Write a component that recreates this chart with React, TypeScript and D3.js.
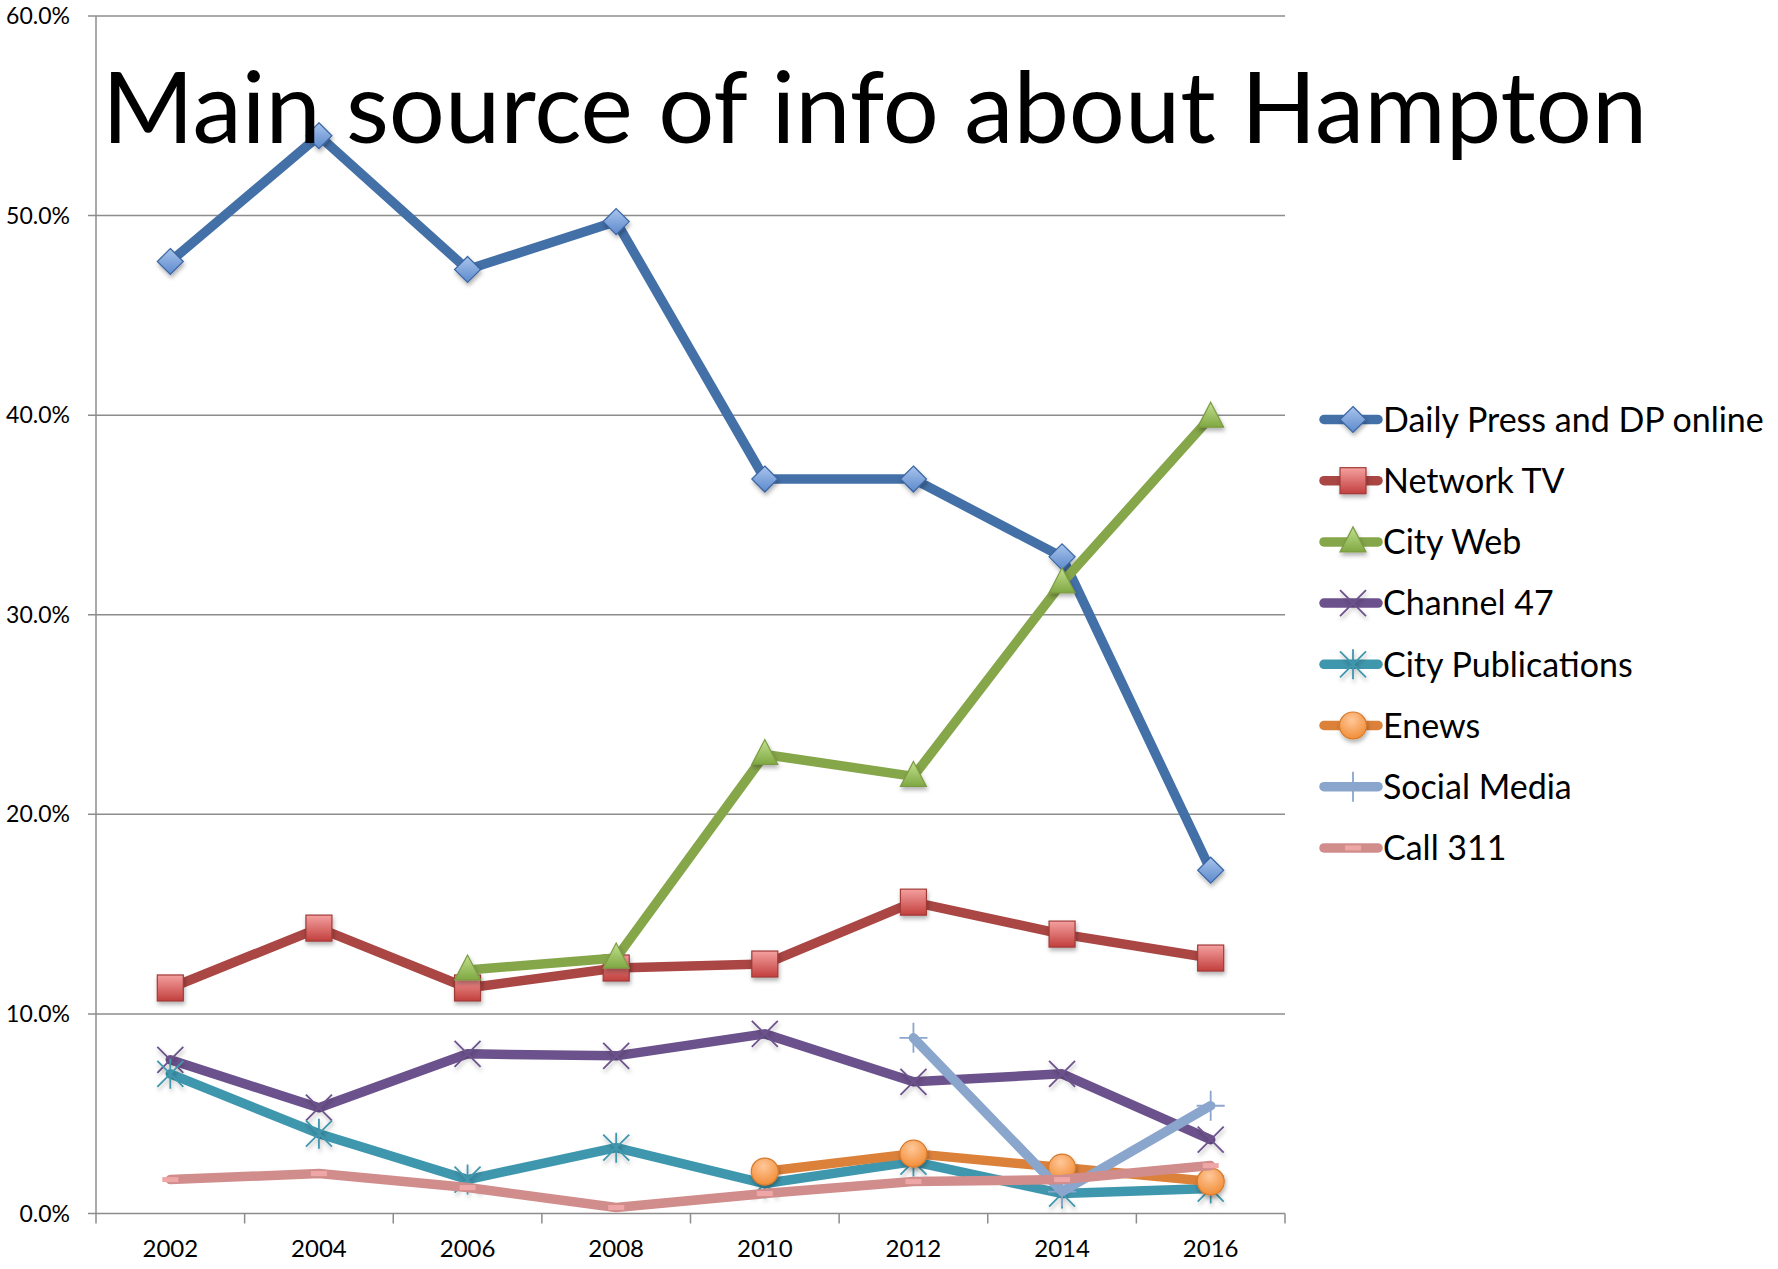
import React from "react";
import * as d3 from "d3";

const years = ["2002", "2004", "2006", "2008", "2010", "2012", "2014", "2016"];
const yTicks = [0, 10, 20, 30, 40, 50, 60];

const dailyPress = [47.7, 54.0, 47.3, 49.7, 36.8, 36.8, 32.9, 17.2];
const networkTV = [11.3, 14.3, 11.3, 12.3, 12.5, 15.6, 14.0, 12.8];
const cityWeb = [null, null, 12.2, 12.8, 23.0, 21.9, 31.6, 39.9];
const channel47 = [7.7, 5.3, 8.0, 7.9, 9.0, 6.6, 7.0, 3.7];
const cityPubs = [7.0, 4.0, 1.7, 3.3, 1.5, 2.6, 1.0, 1.25];
const enews = [null, null, null, null, 2.1, 3.0, 2.3, 1.6];
const socialMedia = [null, null, null, null, null, 8.8, 1.1, 5.4];
const call311 = [1.7, 2.0, 1.3, 0.3, 1.0, 1.6, 1.7, 2.4];

const seriesNames = [
  "Daily Press and DP online",
  "Network TV",
  "City Web",
  "Channel 47",
  "City Publications",
  "Enews",
  "Social Media",
  "Call 311",
];
const seriesValues = [dailyPress, networkTV, cityWeb, channel47, cityPubs, enews, socialMedia, call311];
const seriesColors = ["#4470A8", "#AA4643", "#86A64A", "#6C528C", "#3F97AE", "#DC813A", "#8BA6CC", "#D18D8C"];
const markerKinds = ["diamond", "square", "triangle", "x", "star", "circle", "plus", "dash"];

const W = 1778;
const H = 1269;
const left = 96;
const right = 1285;
const top = 16;
const bottom = 1213.5;
const FONT = "Lato, 'Open Sans', sans-serif";

function Marker({ kind, x, y }: { kind: string; x: number; y: number }) {
  switch (kind) {
    case "diamond":
      return (
        <path
          d={`M${x},${y - 13}L${x + 13},${y}L${x},${y + 13}L${x - 13},${y}Z`}
          fill="url(#gDiamond)"
          stroke="#3A66A3"
          strokeWidth={1.2}
          filter="url(#shadow)"
        />
      );
    case "square":
      return (
        <rect x={x - 13} y={y - 13} width={26} height={26} fill="url(#gSquare)" stroke="#A13A38" strokeWidth={1.2} filter="url(#shadow)" />
      );
    case "triangle":
      return (
        <path d={`M${x},${y - 15}L${x + 13},${y + 10}L${x - 13},${y + 10}Z`} fill="url(#gTriangle)" stroke="#7D9B43" strokeWidth={1.2} filter="url(#shadow)" />
      );
    case "x":
      return (
        <path d={`M${x - 13},${y - 13}L${x + 13},${y + 13}M${x + 13},${y - 13}L${x - 13},${y + 13}`} stroke="#6C528C" strokeWidth={1.8} fill="none" filter="url(#shadow)" />
      );
    case "star":
      return (
        <path
          d={`M${x - 13},${y - 13}L${x + 13},${y + 13}M${x + 13},${y - 13}L${x - 13},${y + 13}M${x},${y - 15}L${x},${y + 15}`}
          stroke="#3F97AE"
          strokeWidth={1.8}
          fill="none"
          filter="url(#shadow)"
        />
      );
    case "circle":
      return <circle cx={x} cy={y} r={13.5} fill="url(#gCircle)" stroke="#D87A2C" strokeWidth={1.2} filter="url(#shadow)" />;
    case "plus":
      return (
        <path d={`M${x - 14},${y}L${x + 14},${y}M${x},${y - 15}L${x},${y + 15}`} stroke="#8BA6CC" strokeWidth={1.8} fill="none" />
      );
    case "dash":
      return <rect x={x - 8} y={y - 2.5} width={16} height={5} fill="#EFA6A6" />;
    default:
      return null;
  }
}

export default function App() {
  const x = d3.scaleBand<string>().domain(years).range([left, right]);
  const y = d3.scaleLinear().domain([0, 60]).range([bottom, top]);
  const cx = (yr: string) => (x(yr) as number) + x.bandwidth() / 2;

  const line = d3
    .line<number | null>()
    .defined((d) => d !== null)
    .x((_, i) => cx(years[i]))
    .y((d) => y(d as number));

  const legendX0 = 1324;
  const legendY0 = 419.5;
  const legendStep = 61.2;

  return (
    <svg width={W} height={H} style={{ position: "absolute", left: 0, top: 0, background: "#fff" }}>
      <defs>
        <linearGradient id="gDiamond" x1="0" y1="0" x2="0" y2="1">
          <stop offset="0" stopColor="#A9C4EC" />
          <stop offset="1" stopColor="#5C89CC" />
        </linearGradient>
        <linearGradient id="gSquare" x1="0" y1="0" x2="0" y2="1">
          <stop offset="0" stopColor="#F4A1A0" />
          <stop offset="1" stopColor="#C23F3D" />
        </linearGradient>
        <linearGradient id="gTriangle" x1="0" y1="0" x2="0" y2="1">
          <stop offset="0" stopColor="#C2E08E" />
          <stop offset="1" stopColor="#7FA843" />
        </linearGradient>
        <radialGradient id="gCircle" cx="0.45" cy="0.3" r="0.75">
          <stop offset="0" stopColor="#FFC79A" />
          <stop offset="1" stopColor="#F08A30" />
        </radialGradient>
        <filter id="shadow" x="-50%" y="-50%" width="200%" height="200%">
          <feDropShadow dx="1" dy="3" stdDeviation="2" floodColor="#000" floodOpacity="0.3" />
        </filter>
      </defs>

      {yTicks.map((t) => (
        <line key={t} x1={left - 8} x2={right} y1={y(t)} y2={y(t)} stroke="#8C8C8C" strokeWidth={1.5} />
      ))}
      <line x1={left} x2={left} y1={top} y2={bottom} stroke="#8C8C8C" strokeWidth={1.5} />
      {years.map((yr) => (
        <line key={yr} x1={x(yr) as number} x2={x(yr) as number} y1={bottom} y2={bottom + 10} stroke="#8C8C8C" strokeWidth={1.5} />
      ))}
      <line x1={right} x2={right} y1={bottom} y2={bottom + 10} stroke="#8C8C8C" strokeWidth={1.5} />

      {yTicks.map((t) => (
        <text key={t} x={70} y={y(t)} dy="0.35em" textAnchor="end" fontFamily={FONT} fontSize={23} fill="#000">
          {t.toFixed(1) + "%"}
        </text>
      ))}
      {years.map((yr) => (
        <text key={yr} x={cx(yr)} y={1257} textAnchor="middle" fontFamily={FONT} fontSize={24} fill="#000">
          {yr}
        </text>
      ))}

      {seriesValues.map((vals, si) => (
        <g key={si}>
          <path d={line(vals) || ""} fill="none" stroke={seriesColors[si]} strokeWidth={9.5} strokeLinejoin="round" strokeLinecap="round" />
          {vals.map((v, i) => (v === null ? null : <Marker key={i} kind={markerKinds[si]} x={cx(years[i])} y={y(v)} />))}
        </g>
      ))}

      <text x={102} y={143} fontFamily={FONT} fontSize={99} fill="#000">
        Main source of info about Hampton
      </text>

      {seriesNames.map((name, si) => {
        const ly = legendY0 + si * legendStep;
        return (
          <g key={name}>
            <line x1={legendX0} x2={legendX0 + 54} y1={ly} y2={ly} stroke={seriesColors[si]} strokeWidth={9.5} strokeLinecap="round" />
            <Marker kind={markerKinds[si]} x={legendX0 + 29} y={ly} />
            <text x={legendX0 + 59} y={ly} dy="0.36em" fontFamily={FONT} fontSize={34} fill="#000">
              {name}
            </text>
          </g>
        );
      })}
    </svg>
  );
}
